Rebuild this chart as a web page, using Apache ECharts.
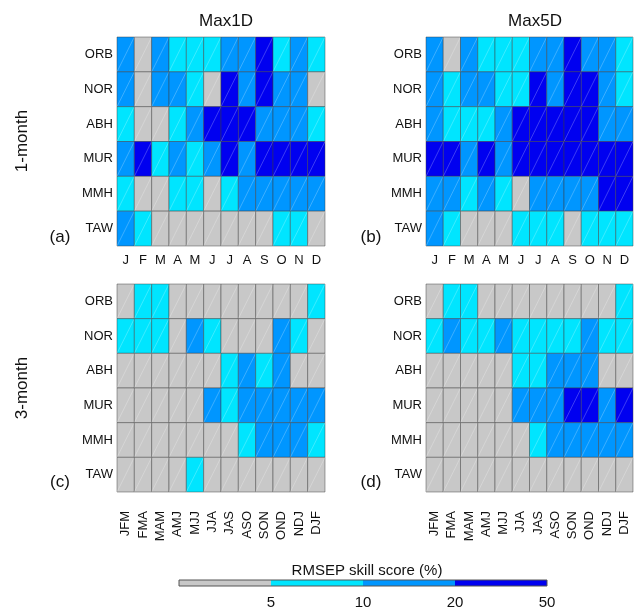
<!DOCTYPE html>
<html>
<head>
<meta charset="utf-8">
<script src="https://cdn.jsdelivr.net/npm/echarts@6/dist/echarts.min.js"></script>
<style>html,body{margin:0;padding:0;background:#fff}#c{width:636px;height:610px}</style>
</head>
<body>
<div id="c"></div>
<script>
// ---- data ----
const stations = ['ORB','NOR','ABH','MUR','MMH','TAW'];
const months = ['J','F','M','A','M','J','J','A','S','O','N','D'];
const seasons = ['JFM','FMA','MAM','AMJ','MJJ','JJA','JAS','ASO','SON','OND','NDJ','DJF'];
const classNames = ['<5','5-10','10-20','20-50'];
const colorbarTicks = ['5','10','20','50'];
// skill-score class per station (rows) and month/season (columns): 0:<5 1:5-10 2:10-20 3:20-50
const max1d_1month = [
  [2,0,2,1,1,1,2,2,3,1,2,1],
  [2,0,2,2,1,0,3,2,3,2,2,0],
  [1,0,0,1,2,3,3,3,2,2,2,1],
  [2,3,1,2,1,2,3,2,3,3,3,3],
  [1,0,0,1,1,0,1,2,2,2,2,2],
  [2,1,0,0,0,0,0,0,0,1,1,0]
];
const max5d_1month = [
  [2,0,2,1,1,1,2,2,3,2,2,1],
  [2,1,2,2,1,1,3,2,3,3,2,1],
  [2,1,1,1,2,3,3,3,3,3,2,2],
  [3,3,2,3,2,3,3,3,3,3,3,3],
  [2,2,1,2,1,0,2,2,2,2,3,3],
  [2,1,0,0,0,1,1,1,0,1,1,1]
];
const max1d_3month = [
  [0,1,1,0,0,0,0,0,0,0,0,1],
  [1,1,1,0,2,1,0,0,0,2,1,0],
  [0,0,0,0,0,0,1,2,1,2,0,0],
  [0,0,0,0,0,2,1,2,2,2,2,2],
  [0,0,0,0,0,0,0,1,2,2,2,1],
  [0,0,0,0,1,0,0,0,0,0,0,0]
];
const max5d_3month = [
  [0,1,1,0,0,0,0,0,0,0,0,1],
  [1,2,1,1,2,1,1,1,1,2,1,1],
  [0,0,0,0,0,1,1,2,2,2,0,0],
  [0,0,0,0,0,2,2,2,3,3,2,3],
  [0,0,0,0,0,0,1,2,2,2,2,2],
  [0,0,0,0,0,0,0,0,0,0,0,0]
];

// ---- styling ----
const colors = ['#c8c8c8','#00e5ff','#0096ff','#0000f0'];
const FONT = 'Liberation Sans, Arial, sans-serif';

function toCells(mat){
  const out = [];
  mat.forEach((row, r) => row.forEach((v, c) => out.push([c, r, v])));
  return out;
}
function renderCell(params, api){
  const x = api.value(0), y = api.value(1), k = api.value(2);
  const p = api.coord([x, y]);
  const s = api.size([1, 1]);
  const w = s[0], h = s[1];
  const x0 = p[0] - w/2, y0 = p[1] - h/2;
  return {type:'group', children:[
    {type:'rect', shape:{x:x0, y:y0, width:w, height:h},
     style:{fill:colors[k], stroke:'rgba(60,60,60,0.45)', lineWidth:1}},
    {type:'line', shape:{x1:x0, y1:y0+h, x2:x0+w, y2:y0},
     style:{stroke:'rgba(255,255,255,0.3)', lineWidth:0.8}}
  ]};
}

const grids = [
  {left:117, top:37, width:208, height:209},
  {left:426, top:37, width:207, height:209},
  {left:117, top:284, width:208, height:208},
  {left:426, top:284, width:207, height:208},
  {left:179, top:580, width:368, height:9, show:true, borderColor:'#555', borderWidth:1, z:10, backgroundColor:'transparent'}
];
const mats = [max1d_1month, max5d_1month, max1d_3month, max5d_3month];
const xCats = [months, months, seasons, seasons];

const xAxes = [], yAxes = [], series = [];
for (let i = 0; i < 4; i++){
  const isSeason = i >= 2;
  xAxes.push({
    type:'category', gridIndex:i, data:xCats[i], boundaryGap:true,
    axisLine:{show:false}, axisTick:{show:false}, splitLine:{show:false},
    axisLabel:{color:'#111', fontSize:13, fontFamily:FONT, interval:0,
      rotate: isSeason ? 90 : 0, margin: isSeason ? 19 : 8}
  });
  yAxes.push({
    type:'category', gridIndex:i, data:stations, inverse:true,
    axisLine:{show:false}, axisTick:{show:false}, splitLine:{show:false},
    axisLabel:{color:'#111', fontSize:13, fontFamily:FONT, margin:4}
  });
  series.push({
    type:'custom', xAxisIndex:i, yAxisIndex:i, renderItem:renderCell,
    data: toCells(mats[i]), silent:true
  });
}
// colorbar
xAxes.push({
  type:'value', gridIndex:4, min:0, max:4, interval:1,
  axisLine:{show:false}, axisTick:{show:false}, splitLine:{show:false},
  axisLabel:{color:'#111', fontSize:15, fontFamily:FONT, margin:9,
    formatter: v => (v >= 1 ? colorbarTicks[v-1] : '')}
});
yAxes.push({type:'value', gridIndex:4, min:0, max:1, show:false});
series.push({
  type:'custom', xAxisIndex:4, yAxisIndex:4, silent:true,
  data: classNames.map((n, i) => [i, i+1, i]),
  renderItem: function(params, api){
    const a = api.coord([api.value(0), 1]);
    const b = api.coord([api.value(1), 0]);
    return {type:'rect', shape:{x:a[0], y:a[1], width:b[0]-a[0], height:b[1]-a[1]},
      style:{fill:colors[api.value(2)]}};
  }
});

const option = {
  animation:false,
  backgroundColor:'#fff',
  title:[
    {text:'Max1D', left:221, top:8, textAlign:'center', textStyle:{fontSize:17, fontWeight:'normal', color:'#111', fontFamily:FONT}},
    {text:'Max5D', left:530, top:8, textAlign:'center', textStyle:{fontSize:17, fontWeight:'normal', color:'#111', fontFamily:FONT}},
    {text:'RMSEP skill score (%)', left:362, top:558, textAlign:'center', textStyle:{fontSize:15, fontWeight:'normal', color:'#111', fontFamily:FONT}}
  ],
  graphic:[
    {type:'text', x:22, y:141, rotation:Math.PI/2, style:{text:'1-month', fontSize:17, fontFamily:FONT, fill:'#111', align:'center', verticalAlign:'middle'}},
    {type:'text', x:22, y:388, rotation:Math.PI/2, style:{text:'3-month', fontSize:17, fontFamily:FONT, fill:'#111', align:'center', verticalAlign:'middle'}},
    {type:'text', x:60, y:237, style:{text:'(a)', fontSize:17, fontFamily:FONT, fill:'#111', align:'center', verticalAlign:'middle'}},
    {type:'text', x:371, y:237, style:{text:'(b)', fontSize:17, fontFamily:FONT, fill:'#111', align:'center', verticalAlign:'middle'}},
    {type:'text', x:60, y:482, style:{text:'(c)', fontSize:17, fontFamily:FONT, fill:'#111', align:'center', verticalAlign:'middle'}},
    {type:'text', x:371, y:482, style:{text:'(d)', fontSize:17, fontFamily:FONT, fill:'#111', align:'center', verticalAlign:'middle'}}
  ],
  grid: grids,
  xAxis: xAxes,
  yAxis: yAxes,
  series: series
};
const chart = echarts.init(document.getElementById('c'), null, {renderer:'canvas'});
chart.setOption(option);
</script>
</body>
</html>
